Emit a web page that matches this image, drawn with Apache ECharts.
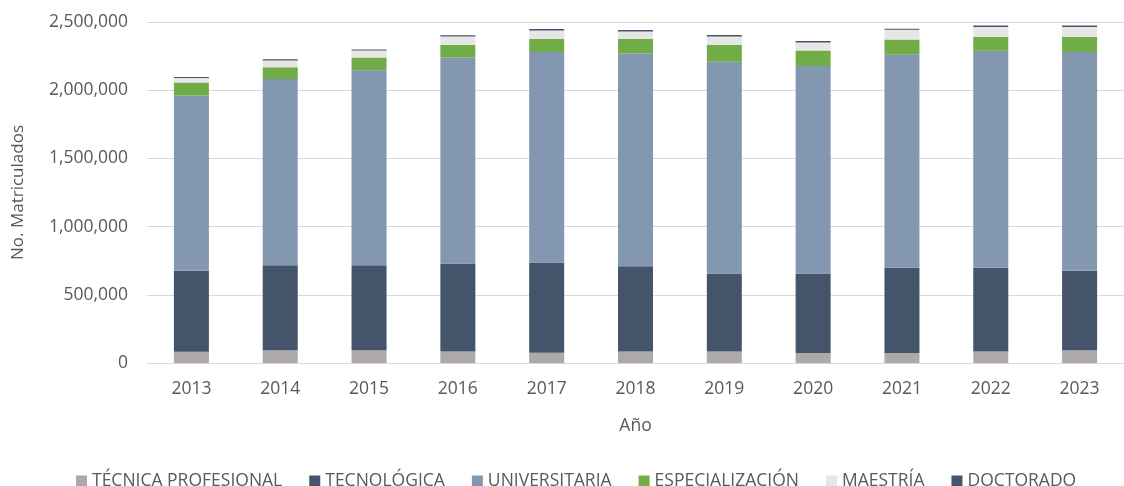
<!DOCTYPE html>
<html>
<head>
<meta charset="utf-8">
<script src="https://cdn.jsdelivr.net/npm/echarts@6/dist/echarts.min.js"></script>
<style>
  html, body { margin: 0; padding: 0; background: #fff; }
  #chart { width: 1124px; height: 486px; }
</style>
</head>
<body>
<div id="chart"></div>
<script>
// Matriculados por nivel de formación
var anios = ['2013', '2014', '2015', '2016', '2017', '2018', '2019', '2020', '2021', '2022', '2023'];
var tecnicaProfesional = [82000, 93000, 93000, 84000, 75000, 84000, 84000, 73000, 73000, 84000, 93000];
var tecnologica = [595000, 624000, 624000, 646000, 662000, 626000, 573000, 584000, 625000, 614000, 583000];
var universitaria = [1284000, 1366000, 1430000, 1510000, 1543000, 1559000, 1551000, 1520000, 1562000, 1591000, 1604000];
var especializacion = [95000, 86000, 93000, 93000, 95000, 106000, 125000, 114000, 112000, 103000, 112000];
var maestria = [33000, 49000, 51000, 61000, 63000, 56000, 61000, 59000, 71000, 71000, 71000];
var doctorado = [7000, 8000, 8000, 9000, 10000, 10000, 10000, 10000, 8000, 11000, 11000];

var nombres = ['TÉCNICA PROFESIONAL', 'TECNOLÓGICA', 'UNIVERSITARIA', 'ESPECIALIZACIÓN', 'MAESTRÍA', 'DOCTORADO'];
var colores = ['#ADA9A8', '#44546A', '#8497B0', '#70AD47', '#E7E6E6', '#44546A'];
var valores = [tecnicaProfesional, tecnologica, universitaria, especializacion, maestria, doctorado];

var fuente = '"Open Sans", "Noto Sans", sans-serif';

function armarSeries() {
  var series = [];
  for (var i = 0; i < nombres.length; i++) {
    series.push({
      name: nombres[i],
      type: 'bar',
      stack: 'total',
      barWidth: 35,
      data: valores[i],
      itemStyle: { color: colores[i] }
    });
  }
  return series;
}

var chart = echarts.init(document.getElementById('chart'));
var option = {
  animation: false,
  textStyle: { fontFamily: fuente },
  grid: {
    left: 147,
    right: -9,
    top: 22,
    bottom: 123
  },
  legend: {
    left: 71,
    top: 467,
    itemWidth: 11,
    itemHeight: 11,
    itemGap: 27,
    icon: 'rect',
    data: nombres,
    textStyle: { fontSize: 17.5, color: '#595959', fontFamily: fuente }
  },
  xAxis: {
    type: 'category',
    data: anios,
    name: 'Año',
    nameLocation: 'middle',
    nameGap: 54,
    nameTextStyle: { fontSize: 17.5, color: '#595959' },
    axisLine: { lineStyle: { color: '#D9D9D9', width: 1 } },
    axisTick: { show: false },
    axisLabel: { fontSize: 17.5, color: '#595959', margin: 17 }
  },
  yAxis: {
    type: 'value',
    min: 0,
    max: 2500000,
    interval: 500000,
    name: 'No. Matriculados',
    nameLocation: 'middle',
    nameGap: 120,
    nameTextStyle: { fontSize: 17, color: '#595959' },
    axisLine: { show: false },
    axisTick: { show: false },
    splitLine: { lineStyle: { color: '#D9D9D9', width: 1 } },
    axisLabel: {
      fontSize: 17.5,
      color: '#595959',
      margin: 19,
      formatter: function (v) { return v.toLocaleString('en-US'); }
    }
  },
  series: armarSeries()
};
chart.setOption(option);
</script>
</body>
</html>
